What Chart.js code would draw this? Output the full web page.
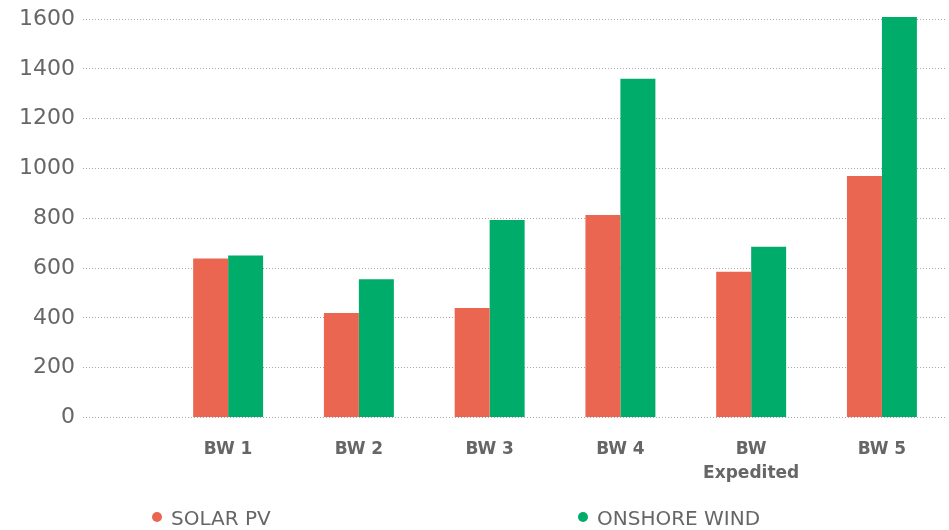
<!DOCTYPE html>
<html>
<head>
<meta charset="utf-8">
<script src="https://cdn.jsdelivr.net/npm/chart.js@4"></script>
<style>
    html, body { margin: 0; padding: 0; background: #fff; }
    #wrap { width: 949px; height: 530px; }
</style>
</head>
<body>
<div id="wrap"><canvas id="graficoLeiloes"></canvas></div>
<script>
// Dados
const categorias = ['BW 1', 'BW 2', 'BW 3', 'BW 4', 'BW Expedited', 'BW 5'];
const solarPV = [638, 419, 439, 813, 585, 969];
const onshoreWind = [650, 555, 793, 1360, 685, 1608];
const ticksY = [0, 200, 400, 600, 800, 1000, 1200, 1400, 1600];

const nomesSeries = ['SOLAR PV', 'ONSHORE WIND'];
const coresSeries = ['#EB6651', '#00AC69'];

const corTexto = '#666666';
const fonte = "'DejaVu Sans', sans-serif";

// Posição x de cada categoria (1..n) numa escala linear
function pontos(valores) {
    return valores.map((v, i) => ({ x: i + 1, y: v }));
}

// Legenda desenhada à mão (itens bem espaçados, como no original)
const legendaPlugin = {
    id: 'legendaManual',
    afterDraw(chart, args, opts) {
        const ctx = chart.ctx;
        ctx.save();
        ctx.font = '20px ' + fonte;
        ctx.textBaseline = 'middle';
        ctx.textAlign = 'left';
        chart.data.datasets.forEach((ds, i) => {
            const x = opts.inicio + i * opts.passo;
            ctx.fillStyle = ds.backgroundColor;
            ctx.beginPath();
            ctx.arc(x + 5, opts.y - 3, 5, 0, Math.PI * 2);
            ctx.fill();
            ctx.fillStyle = corTexto;
            ctx.fillText(ds.label, x + 19, opts.y);
        });
        ctx.restore();
    }
};

const ctx = document.getElementById('graficoLeiloes').getContext('2d');

const grafico = new Chart(ctx, {
    type: 'bar',
    data: {
        datasets: [
            {
                label: nomesSeries[0],
                data: pontos(solarPV),
                backgroundColor: coresSeries[0],
                clip: false
            },
            {
                label: nomesSeries[1],
                data: pontos(onshoreWind),
                backgroundColor: coresSeries[1],
                clip: false
            }
        ]
    },
    options: {
        responsive: true,
        maintainAspectRatio: false,
        animation: false,
        barPercentage: 1,
        categoryPercentage: 0.535,
        layout: {
            padding: { left: 11, right: 3, top: -1, bottom: 33 }
        },
        scales: {
            x: {
                type: 'linear',
                offset: false,
                min: -0.11,
                max: 6.49,
                grid: { display: false },
                border: { display: false },
                afterBuildTicks: (eixo) => {
                    eixo.ticks = categorias.map((c, i) => ({ value: i + 1 }));
                },
                ticks: {
                    color: corTexto,
                    padding: 12,
                    autoSkip: false,
                    maxRotation: 0,
                    font: { family: fonte, size: 17, weight: 'bold', lineHeight: 1.4 },
                    callback: (valor) => {
                        const nome = categorias[valor - 1] || '';
                        return nome.length > 6 ? nome.split(' ') : nome;
                    }
                }
            },
            y: {
                min: 0,
                max: 1600,
                afterBuildTicks: (eixo) => {
                    eixo.ticks = ticksY.map(v => ({ value: v }));
                },
                grid: {
                    color: '#a8a8a8',
                    lineWidth: 1,
                    drawTicks: false
                },
                border: { display: false, dash: [1, 2] },
                ticks: {
                    color: corTexto,
                    padding: 8,
                    font: { family: fonte, size: 22, lineHeight: 1 },
                    callback: (valor) => String(valor)
                }
            }
        },
        plugins: {
            legend: { display: false },
            tooltip: { enabled: false },
            legendaManual: { inicio: 152, passo: 426, y: 520 }
        }
    },
    plugins: [legendaPlugin]
});
</script>
</body>
</html>
